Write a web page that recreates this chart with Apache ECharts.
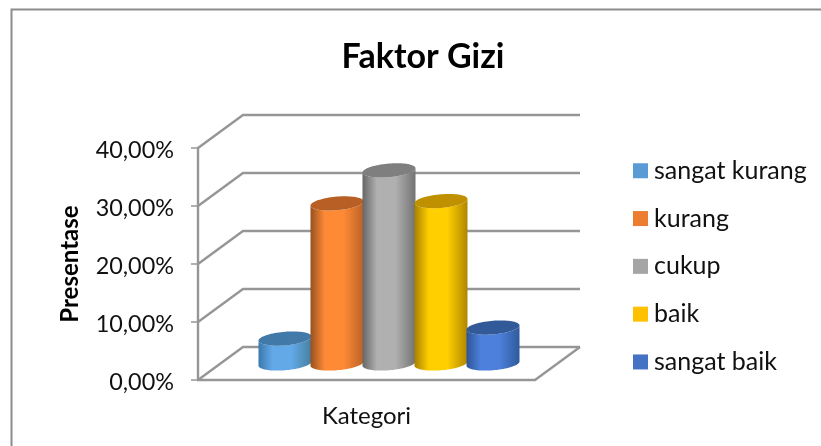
<!DOCTYPE html>
<html><head><meta charset="utf-8">
<style>html,body{margin:0;padding:0;background:#fff}#c{width:821px;height:446px}</style>
<script src="https://cdn.jsdelivr.net/npm/echarts@6/dist/echarts.min.js"></script>
</head><body><div id="c"></div>
<script>
const titleText = 'Faktor Gizi';
const categories = ['Kategori'];
const seriesNames = ['sangat kurang','kurang','cukup','baik','sangat baik'];
const seriesValues = [4.3, 27.6, 33.3, 28.0, 6.2];
const yTicks = [0, 10, 20, 30, 40];
const legendColors = ['#5b9bd5','#ed7d31','#a5a5a5','#ffc000','#4472c4'];
const edgeLeft = ['#3a78ad','#96501f','#666666','#a88000','#2d5494'];
const mid = ['#63a9e8','#ff8a35','#b0b0b0','#ffcf00','#4d80dc'];
const edgeRight = ['#44809f','#bb6328','#737373','#b08700','#2f5a9c'];
const topCol = ['#4179a8','#b85f25','#7f7f7f','#bf9000','#325a99'];

const DX = 45, DY = -33, GAP = 52, RX = 26.5, RY = 6.8, SHEAR = -0.08;
const FONT = 'Lato, "Open Sans", sans-serif';
const LINE = '#969696';

function ellipsePt(cx, cy, t) {
  const x = RX * Math.cos(t);
  return [cx + x, cy + RY * Math.sin(t) + SHEAR * x];
}
function cylinder(i) {
  return function (params, api) {
    const top = api.coord([0, api.value(1)]);
    const base = api.coord([0, 0]);
    const cx = top[0] + DX / 2 + (i - 2) * GAP;
    const yT = top[1] + DY / 2, yB = base[1] + DY / 2;
    const body = [], cap = [];
    for (let k = 0; k <= 40; k++) body.push(ellipsePt(cx, yB, Math.PI * (1 - k / 40)));
    for (let k = 0; k <= 40; k++) body.push(ellipsePt(cx, yT, Math.PI * k / 40));
    for (let k = 0; k < 80; k++) cap.push(ellipsePt(cx, yT, Math.PI * 2 * k / 80));
    const grad = new echarts.graphic.LinearGradient(0, 0, 1, 0, [
      {offset: 0, color: edgeLeft[i]}, {offset: 0.27, color: mid[i]},
      {offset: 0.62, color: mid[i]}, {offset: 1, color: edgeRight[i]}
    ]);
    return {type: 'group', children: [
      {type: 'polygon', shape: {points: body}, style: {fill: grad}},
      {type: 'polygon', shape: {points: cap}, style: {fill: topCol[i]}}
    ]};
  };
}
function wall(params, api) {
  const p = api.coord([0, api.value(1)]);
  const cs = params.coordSys;
  const l = cs.x, r = cs.x + cs.width;
  const st = {stroke: LINE, lineWidth: 2.4, fill: 'none'};
  const kids = [{type: 'polyline', shape: {points: [[l, p[1]], [l + DX, p[1] + DY], [r + DX, p[1] + DY]]}, style: st}];
  if (api.value(1) === 0) kids.push({type: 'line', shape: {x1: r, y1: p[1], x2: r + DX, y2: p[1] + DY}, style: st});
  return {type: 'group', children: kids};
}
const series = [{
  type: 'custom', name: 'wall', silent: true, renderItem: wall, clip: false, z: 1,
  data: yTicks.map(v => [0, v]), encode: {x: 0, y: 1}
}];
seriesNames.forEach((n, i) => series.push({
  type: 'custom', name: n, renderItem: cylinder(i), clip: false, z: 3 + i,
  itemStyle: {color: legendColors[i]},
  data: [[0, seriesValues[i]]], encode: {x: 0, y: 1}
}));

const chart = echarts.init(document.getElementById('c'), null, {renderer: 'canvas'});
chart.setOption({
  animation: false,
  backgroundColor: '#fff',
  title: {text: titleText, left: 418, top: 35, textAlign: 'center',
    textStyle: {fontFamily: FONT, fontWeight: 'bold', fontSize: 34, color: '#000'}},
  legend: {
    orient: 'vertical', left: 628, top: 151, itemWidth: 15, itemHeight: 15, itemGap: 18.3,
    data: seriesNames.map((n, i) => ({name: n, icon: 'rect', itemStyle: {color: legendColors[i]}})),
    textStyle: {fontFamily: FONT, fontSize: 25, color: '#111', padding: [0, 0, 0, 1], lineHeight: 29.5},
    selectedMode: false
  },
  grid: {left: 198, top: 148, width: 337, height: 232},
  xAxis: {type: 'category', data: categories,
    axisLine: {lineStyle: {color: LINE, width: 2.4}}, axisTick: {show: false},
    axisLabel: {fontFamily: FONT, fontSize: 24, color: '#111', margin: 24}},
  yAxis: {type: 'value', min: 0, max: 40, interval: 10,
    name: 'Presentase', nameLocation: 'middle', nameGap: 116, nameRotate: 90,
    nameTextStyle: {fontFamily: FONT, fontWeight: 'bold', fontSize: 24, color: '#000'},
    axisLine: {show: true, lineStyle: {color: LINE, width: 2.4}},
    axisTick: {show: true, length: 7, lineStyle: {color: LINE, width: 1.5}},
    splitLine: {show: false},
    axisLabel: {margin: 24,
      rich: {t: {fontFamily: FONT, fontSize: 23.4, color: '#111', padding: [5, 0, 0, 0]}},
      formatter: v => '{t|' + v.toFixed(2).replace('.', ',') + '%}'}},
  graphic: [
    {type: 'polyline', silent: true, shape: {points: [[11.5, 446], [11.5, 9.5], [821, 9.5]]},
     style: {stroke: '#8c8c8c', lineWidth: 2, fill: 'none'}}
  ],
  series
});
</script></body></html>
